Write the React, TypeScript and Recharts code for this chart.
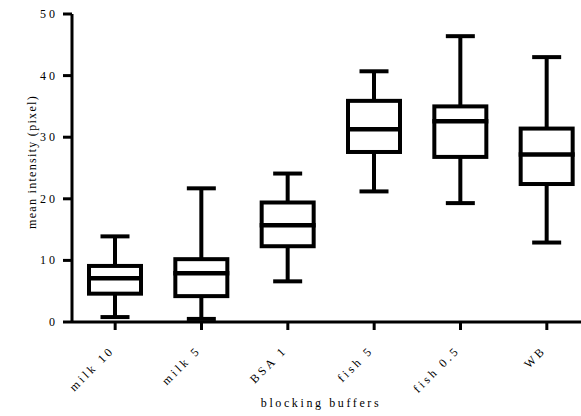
import React from 'react';
import { ComposedChart, Bar, XAxis, YAxis } from 'recharts';

const categories = ['milk 10', 'milk 5', 'BSA 1', 'fish 5', 'fish 0.5', 'WB'];
const minValues = [0.8, 0.5, 6.6, 21.2, 19.3, 12.9];
const q1Values = [4.6, 4.2, 12.3, 27.6, 26.8, 22.4];
const medianValues = [7.1, 7.9, 15.7, 31.3, 32.6, 27.2];
const q3Values = [9.1, 10.2, 19.4, 35.9, 35.0, 31.4];
const maxValues = [13.9, 21.7, 24.1, 40.7, 46.4, 43.0];
const yTicks = [0, 10, 20, 30, 40, 50];

const data = categories.map((name, i) => ({
  name,
  min: minValues[i],
  q1: q1Values[i],
  median: medianValues[i],
  q3: q3Values[i],
  max: maxValues[i],
}));

const FONT = '"Liberation Serif", "Times New Roman", serif';
const textStyle = { fontFamily: FONT, fontSize: 12 };

const BoxShape = (props: any) => {
  const { x, y, width, height, payload } = props;
  const { min, q1, median, q3, max } = payload;
  const py = (v: number) => y + (height * (max - v)) / (max - min);
  const cx = x + width / 2;
  const capHalf = 14.5;
  return (
    <g>
      <line x1={cx} x2={cx} y1={py(max)} y2={py(q3)} stroke="#000" strokeWidth={4} />
      <line x1={cx} x2={cx} y1={py(q1)} y2={py(min)} stroke="#000" strokeWidth={4} />
      <line x1={cx - capHalf} x2={cx + capHalf} y1={py(max)} y2={py(max)} stroke="#000" strokeWidth={4} />
      <line x1={cx - capHalf} x2={cx + capHalf} y1={py(min)} y2={py(min)} stroke="#000" strokeWidth={4} />
      <rect x={x} y={py(q3)} width={width} height={py(q1) - py(q3)} fill="#fff" stroke="#000" strokeWidth={4} />
      <line x1={x - 2} x2={x + width + 2} y1={py(median)} y2={py(median)} stroke="#000" strokeWidth={4.5} />
    </g>
  );
};

const YTick = (props: any) => {
  const { x, y, payload } = props;
  return (
    <text x={x} y={y} dy={4} textAnchor="end" style={{ ...textStyle, letterSpacing: 3 }} fill="#000">
      {payload.value}
    </text>
  );
};

const XTick = (props: any) => {
  const { x, y, payload } = props;
  return (
    <text
      x={x}
      y={y}
      transform={`rotate(-45 ${x} ${y})`}
      textAnchor="end"
      style={{ ...textStyle, letterSpacing: 3 }}
      fill="#000"
    >
      {payload.value}
    </text>
  );
};

const XTitle = (props: any) => {
  const vb = props.viewBox || {};
  const cx = vb.x + vb.width / 2 - 10;
  return (
    <text x={cx} y={407} textAnchor="middle" style={{ ...textStyle, letterSpacing: 2.6 }} fill="#000">
      blocking buffers
    </text>
  );
};

const YTitle = (props: any) => {
  const vb = props.viewBox || {};
  const cy = vb.y + vb.height / 2 - 6;
  const cx = 36;
  return (
    <text
      x={cx}
      y={cy}
      transform={`rotate(-90 ${cx} ${cy})`}
      textAnchor="middle"
      style={{ ...textStyle, letterSpacing: 1.3 }}
      fill="#000"
    >
      mean intensity (pixel)
    </text>
  );
};

export default function App() {
  return (
    <div
      style={{
        position: 'absolute',
        left: 0,
        top: 0,
        width: 581,
        height: 416,
        overflow: 'hidden',
        background: '#fff',
      }}
    >
      <ComposedChart
        width={590}
        height={416}
        data={data}
        margin={{ top: 14, right: 0, left: 0, bottom: 0 }}
        barCategoryGap={0}
      >
        <XAxis
          dataKey="name"
          type="category"
          height={94}
          axisLine={{ stroke: '#000', strokeWidth: 3 }}
          tickLine={{ stroke: '#000', strokeWidth: 3 }}
          tickSize={8}
          tickMargin={21}
          tick={<XTick />}
          interval={0}
          label={{ content: <XTitle /> }}
        />
        <YAxis
          type="number"
          domain={[0, 50]}
          ticks={yTicks}
          width={72}
          axisLine={{ stroke: '#000', strokeWidth: 3 }}
          tickLine={{ stroke: '#000', strokeWidth: 3 }}
          tickSize={9}
          tickMargin={5}
          tick={<YTick />}
          interval={0}
          label={{ content: <YTitle /> }}
        />
        <Bar
          dataKey={(d: any) => [d.min, d.max]}
          barSize={52}
          shape={BoxShape}
          isAnimationActive={false}
        />
      </ComposedChart>
    </div>
  );
}
